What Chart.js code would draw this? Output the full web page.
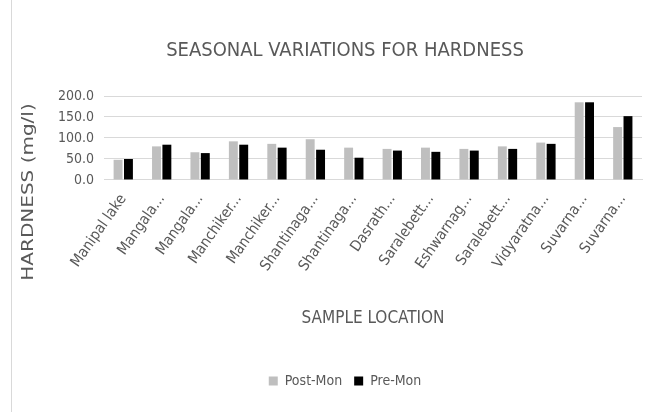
<!DOCTYPE html>
<html>
<head>
<meta charset="utf-8">
<script src="https://cdn.jsdelivr.net/npm/chart.js@4"></script>
<style>
  html, body { margin: 0; padding: 0; background: #fff; }
  #wrap { position: relative; width: 646px; height: 412px; }
  #wrap:before { content: ''; position: absolute; left: 11px; top: 0; bottom: 0; border-left: 1px solid #d9d9d9; }
</style>
</head>
<body>
<div id="wrap"><canvas id="myChart" width="646" height="412"></canvas></div>
<script>
// data
const locations = ['Manipal lake', 'Mangala...', 'Mangala...', 'Manchiker...', 'Manchiker...',
    'Shantinaga...', 'Shantinaga...', 'Dasrath...', 'Saralebett...', 'Eshwarnag...',
    'Saralebett...', 'Vidyaratna...', 'Suvarna...', 'Suvarna...'];
const postMon = [48, 80, 66, 92, 86, 97, 77, 74, 77, 74, 80, 89, 185, 126];
const preMon = [50, 84, 64, 84, 77, 72, 53, 70, 67, 70, 74, 86, 185, 152];
const yTicks = [0, 50, 100, 150, 200];

const FONT = "'Liberation Sans Narrow', 'DejaVu Sans Condensed', sans-serif";
const TXT = '#595959';

// y axis title drawn by hand so it sits where Excel puts it
const yTitle = {
    id: 'yTitle',
    afterDraw(chart) {
        const c = chart.ctx;
        c.save();
        c.translate(29, 192);
        c.rotate(-Math.PI / 2);
        c.scale(1.25, 1);
        c.font = "16px 'DejaVu Sans', sans-serif";
        c.fillStyle = TXT;
        c.textAlign = 'center';
        c.textBaseline = 'middle';
        c.fillText('HARDNESS (mg/l)', 0, 0);
        c.restore();
    }
};

const config = {
    type: 'bar',
    data: {
        labels: locations,
        datasets: [
            { label: 'Post-Mon', data: postMon, backgroundColor: '#bfbfbf' },
            { label: 'Pre-Mon', data: preMon, backgroundColor: '#000000' },
        ]
    },
    options: {
        responsive: false,
        animation: false,
        layout: { padding: { left: 48, right: 4, bottom: 14 } },
        datasets: { bar: { categoryPercentage: 0.54, barPercentage: 0.86 } },
        plugins: {
            title: {
                display: true,
                text: 'SEASONAL VARIATIONS FOR HARDNESS',
                color: TXT,
                font: { family: FONT, size: 20, weight: 'normal' },
                padding: { top: 39, bottom: 33 }
            },
            legend: {
                position: 'bottom',
                labels: {
                    color: TXT,
                    font: { family: FONT, size: 14 },
                    boxWidth: 9, boxHeight: 9,
                    padding: 12
                }
            },
            tooltip: { enabled: false }
        },
        scales: {
            x: {
                grid: { display: false },
                border: { color: '#d9d9d9' },
                ticks: {
                    color: TXT,
                    font: { family: FONT, size: 15 },
                    minRotation: 55, maxRotation: 55,
                    autoSkip: false
                },
                title: {
                    display: true,
                    text: 'SAMPLE LOCATION',
                    color: TXT,
                    font: { family: FONT, size: 17 },
                    padding: { top: 31, bottom: 33 }
                }
            },
            y: {
                min: 0, max: 200,
                afterBuildTicks: axis => { axis.ticks = yTicks.map(v => ({ value: v })); },
                grid: { color: '#d9d9d9', drawTicks: false },
                border: { display: false },
                ticks: {
                    color: TXT,
                    font: { family: FONT, size: 14 },
                    padding: 10,
                    callback: v => v.toFixed(1)
                }
            }
        }
    },
    plugins: [yTitle]
};

const ctx = document.getElementById('myChart');
const myChart = new Chart(ctx, config);
</script>
</body>
</html>
